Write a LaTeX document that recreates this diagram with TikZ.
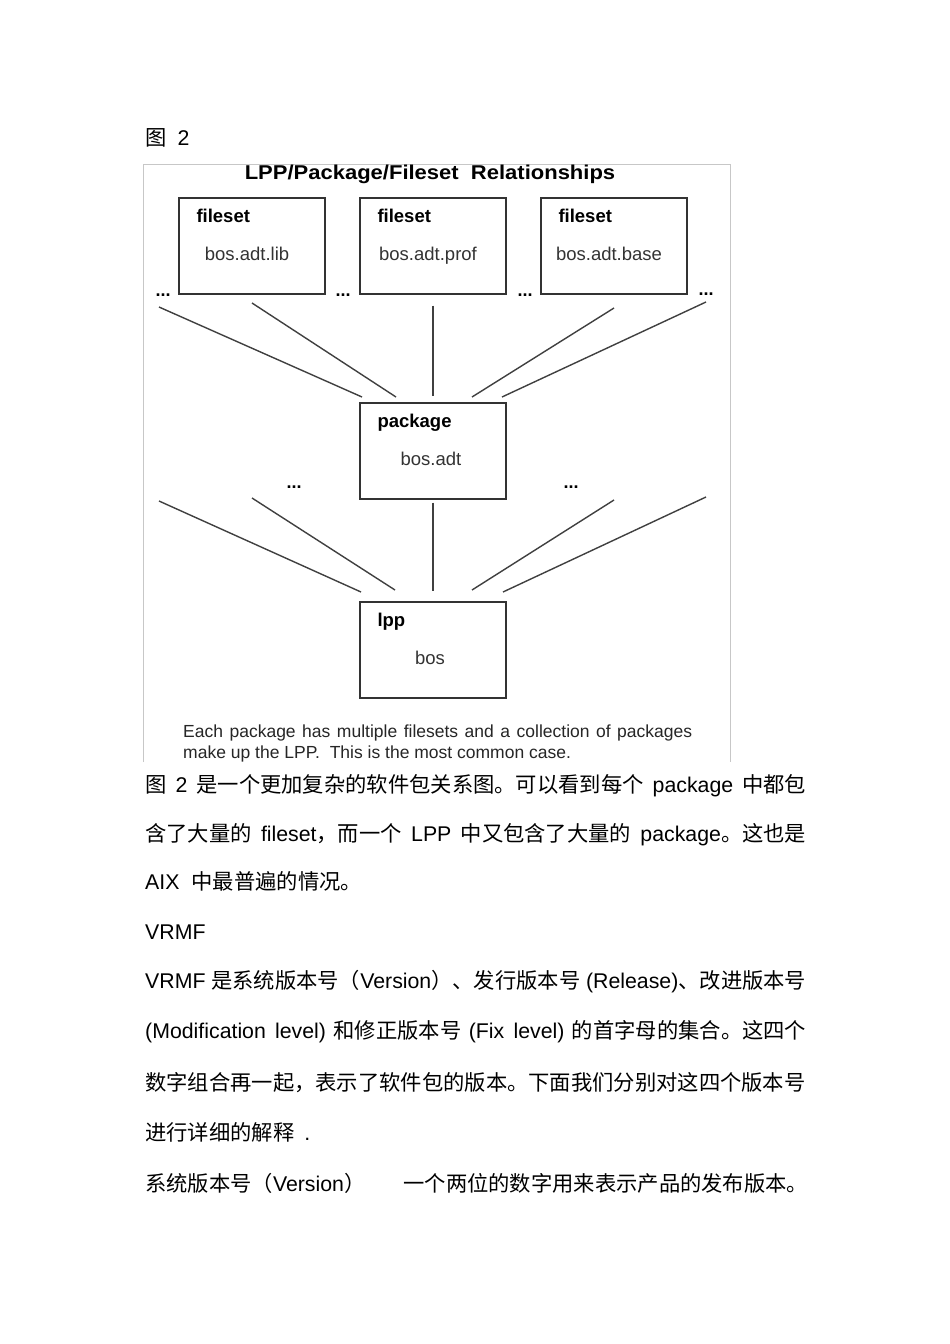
\documentclass[tikz,border=0pt]{standalone}
\usepackage{fontspec}
\setmainfont{Liberation Sans}
\newfontfamily\cjk{Noto Sans CJK SC}
\newfontfamily\titlefont[FakeStretch=1.1]{Liberation Sans}
\newcommand\latn[1]{{\rmfamily #1}}

\tikzset{%
  every box/.style={
    draw=black!80,
    line width=1.4pt,
    minimum width=146pt,
    minimum height=96pt,
    inner sep=0pt
  },
  box kind/.style={
    anchor=base west,
    inner sep=0pt,
    font=\fontsize{18.5}{20}\selectfont\bfseries
  },
  box item/.style={
    anchor=base,
    inner sep=0pt,
    text=black!80,
    font=\fontsize{18.5}{20}\selectfont
  },
  more dots/.style={
    inner sep=0pt,
    font=\fontsize{18}{18}\selectfont\bfseries
  },
  link/.style={draw=black!75, line width=1.4pt},
  frame/.style={draw=black!22, line width=1pt},
  caption/.style={
    anchor=base west,
    inner sep=0pt,
    text=black!85,
    font=\fontsize{17.5}{20}\selectfont
  },
  body line/.style={
    anchor=base west,
    inner sep=0pt,
    font=\fontsize{21.3}{24}\cjk
  },
}

\begin{document}
\begin{tikzpicture}[x=1pt, y=-1pt]
\fill [white] (0,0) rectangle (950,1344);
\useasboundingbox (0,0) rectangle (950,1344);

\node [body line] (fig-label) at (145,145) {图\hspace{11pt}\latn{2}};

% figure frame and title
\draw [frame] (143,762) -- (143,164) -- (730,164) -- (730,762);
\node [anchor=base, inner sep=0pt, font=\fontsize{20}{22}\titlefont\bfseries]
  (title) at (430,179) {LPP/Package/Fileset\ \ Relationships};

\foreach \file [count=\i] in {bos.adt.lib, bos.adt.prof, bos.adt.base} {
  \node [every box] (fileset-\i) at (71+181*\i,246) {};
  \node [box kind] at ([shift={(18,25)}]fileset-\i.north west) {fileset};
  \node [box item] at ([shift={(-5,14)}]fileset-\i.center) {\file};
}

\node [every box] (package) at (433,451) {};
\node [box kind] at ([shift={(18,25)}]package.north west) {package};
\node [box item] at ([shift={(-2,14)}]package.center) {bos.adt};

\node [every box] (lpp) at (433,650) {};
\node [box kind] at ([shift={(18,25)}]lpp.north west) {lpp};
\node [box item] at ([shift={(-3,14)}]lpp.center) {bos};

\foreach \x/\y [count=\i] in {163/295, 343/295, 525/295, 706/294, 294/487, 571/487}
  \node [more dots] (dots-\i) at (\x,\y) {...};

% fileset -> package
\foreach \x/\y [count=\i] in {159/307, 252/303, 433/305, 614/308, 706/302}
  \coordinate (upper-\i) at (\x,\y);
\foreach \x [count=\i] in {362, 396, 433, 472, 502}
  \coordinate (pkg-in-\i) at (\x,397);
\foreach \i in {1,2,4,5}
  \draw [link] (upper-\i) -- (pkg-in-\i);
\draw [link, shorten <=11pt, shorten >=6pt] (fileset-2) -- (package);

% package -> lpp
\foreach \x/\y [count=\i] in {159/501, 252/498, 433/502, 614/500, 706/497}
  \coordinate (lower-\i) at (\x,\y);
\foreach \x/\y [count=\i] in {361/592, 395/590, 433/592, 472/590, 503/592}
  \coordinate (lpp-in-\i) at (\x,\y);
\foreach \i in {1,2,4,5}
  \draw [link] (lower-\i) -- (lpp-in-\i);
\draw [link, shorten <=3pt, shorten >=10pt] (package) -- (lpp);

\node [caption] (caption-1) at (183,737)
  {\makebox[509pt][s]{Each package has multiple filesets and a collection of packages}};
\node [caption] (caption-2) at (183,758)
  {make up the LPP.\ \ This is the most common case.};

% text below the figure
\node [body line] (line-1) at (145,792)
  {\makebox[661pt][s]{图 \latn{2} 是一个更加复杂的软件包关系图。可以看到每个 \latn{package} 中都包}};
\node [body line] (line-2) at (145,841)
  {\makebox[661pt][s]{含了大量的 \latn{fileset}，而一个 \latn{LPP} 中又包含了大量的 \latn{package}。这也是}};
\node [body line] (line-3) at (145,889) {\latn{AIX}\hspace{12pt}中最普遍的情况。};
\node [body line] (line-4) at (145,939) {\latn{VRMF}};
\node [body line] (line-5) at (145,988)
  {\makebox[661pt][s]{\latn{VRMF} 是系统版本号（\latn{Version}）、发行版本号 \latn{(Release)}、改进版本号}};
\node [body line] (line-6) at (145,1038)
  {\makebox[661pt][s]{\latn{(Modification level)} 和修正版本号 \latn{(Fix level)} 的首字母的集合。这四个}};
\node [body line] (line-7) at (145,1090) {数字组合再一起，表示了软件包的版本。下面我们分别对这四个版本号};
\node [body line] (line-8) at (145,1140) {进行详细的解释\hspace{10pt}\latn{.}};
\node [body line] (line-9) at (145,1191)
  {\makebox[663pt][s]{系统版本号（\latn{Version}）\hfill 一个两位的数字用来表示产品的发布版本。}};

\end{tikzpicture}
\end{document}
